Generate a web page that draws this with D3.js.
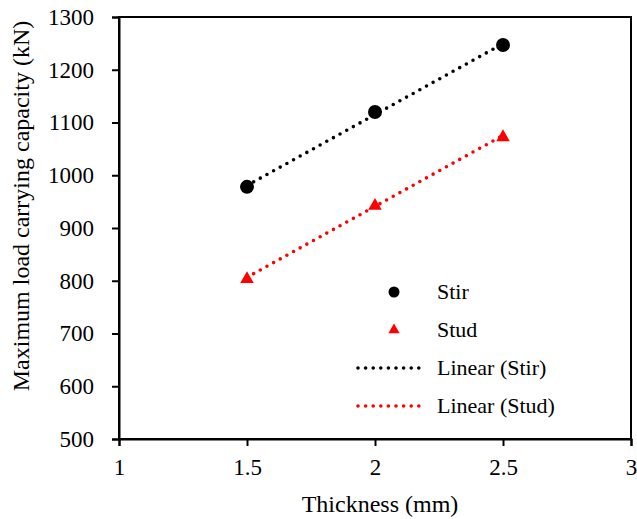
<!DOCTYPE html>
<html><head><meta charset="utf-8">
<script src="https://cdn.jsdelivr.net/npm/d3@7"></script>
<style>body{margin:0;background:#fff;} svg text{font-family:"Liberation Serif","Times New Roman","DejaVu Serif",serif !important;fill:#000;}</style>
</head><body><svg id="c" width="637" height="519"></svg>
<script>
const thickness = [1.5, 2, 2.5];
const stirValues = [978, 1120, 1247];
const studValues = [805, 944, 1074];
const xTicks = [1, 1.5, 2, 2.5, 3];
const yTicks = [500, 600, 700, 800, 900, 1000, 1100, 1200, 1300];
const legendLabels = ["Stir", "Stud", "Linear (Stir)", "Linear (Stud)"];

const FONT = "Liberation Serif, Times New Roman, DejaVu Serif, serif";
const svg = d3.select("#c");
const m = {l:119, r:631, t:17, b:439};
const x = d3.scaleLinear().domain([1,3]).range([m.l, m.r]);
const y = d3.scaleLinear().domain([500,1300]).range([m.b, m.t]);

// frame
svg.append("rect").attr("x",m.l).attr("y",m.t).attr("width",m.r-m.l).attr("height",m.b-m.t)
  .attr("fill","none").attr("stroke","#000").attr("stroke-width",2);

const yAxis = svg.append("g").attr("transform",`translate(${m.l},0)`)
  .call(d3.axisLeft(y).tickValues(yTicks).tickSize(7).tickPadding(18).tickFormat(d3.format("d")));
const xAxis = svg.append("g").attr("transform",`translate(0,${m.b})`)
  .call(d3.axisBottom(x).tickValues(xTicks).tickSize(7).tickPadding(13).tickFormat(d=>String(d)));
[yAxis,xAxis].forEach(a=>{
  a.attr("font-family",FONT).attr("font-size",23);
  a.select(".domain").attr("stroke","#000").attr("stroke-width",2);
  a.selectAll(".tick line").attr("stroke","#000").attr("stroke-width",2);
  a.selectAll("text").attr("font-size",23);
});

// trendlines (least squares)
function fit(xs, ys){
  const mx=d3.mean(xs), my=d3.mean(ys);
  const s=d3.sum(xs,(v,i)=>(v-mx)*(ys[i]-my))/d3.sum(xs,v=>(v-mx)*(v-mx));
  return v=>my+s*(v-mx);
}
const dot = {"stroke-width":3.6,"stroke-dasharray":"0 7.6","stroke-linecap":"round"};
function trend(vals,color){
  const f=fit(thickness,vals);
  const x0=d3.min(thickness), x1=d3.max(thickness);
  const l=svg.append("line").attr("x1",x(x0)).attr("y1",y(f(x0))).attr("x2",x(x1)).attr("y2",y(f(x1)))
    .attr("stroke",color);
  for(const k in dot) l.attr(k,dot[k]);
}
trend(stirValues,"#000");
trend(studValues,"#ff0000");

// markers
svg.selectAll(".stir").data(thickness).enter().append("circle")
  .attr("cx",d=>x(d)).attr("cy",(d,i)=>y(stirValues[i])).attr("r",7).attr("fill","#000");
const tri = d3.symbol().type(d3.symbolTriangle).size(80);
svg.selectAll(".stud").data(thickness).enter().append("path")
  .attr("d",tri).attr("transform",(d,i)=>`translate(${x(d)},${y(studValues[i])+1})`).attr("fill","#ff0000");

// legend
const lg = svg.append("g").attr("font-family",FONT);
const ly = [291, 329, 367, 405];
lg.append("circle").attr("cx",394).attr("cy",ly[0]+1).attr("r",5.5).attr("fill","#000");
lg.append("path").attr("d",d3.symbol().type(d3.symbolTriangle).size(55)).attr("transform",`translate(394,${ly[1]+1})`).attr("fill","#ff0000");
[["#000",ly[2]+1],["#ff0000",ly[3]+1]].forEach(([c,yy])=>{
  const l=lg.append("line").attr("x1",358).attr("x2",421).attr("y1",yy).attr("y2",yy).attr("stroke",c);
  for(const k in dot) l.attr(k,dot[k]);
});
legendLabels.forEach((t,i)=>lg.append("text").attr("x",437).attr("y",ly[i]).attr("dy","0.35em")
  .attr("font-size",22).text(t));

// axis titles
svg.append("text").attr("x",380).attr("y",512).attr("text-anchor","middle").attr("font-family",FONT).attr("font-size",24).text("Thickness (mm)");
svg.append("text").attr("transform",`translate(29,206) rotate(-90)`).attr("text-anchor","middle")
  .attr("font-family",FONT).attr("font-size",24).text("Maximum load carrying capacity (kN)");
</script></body></html>
